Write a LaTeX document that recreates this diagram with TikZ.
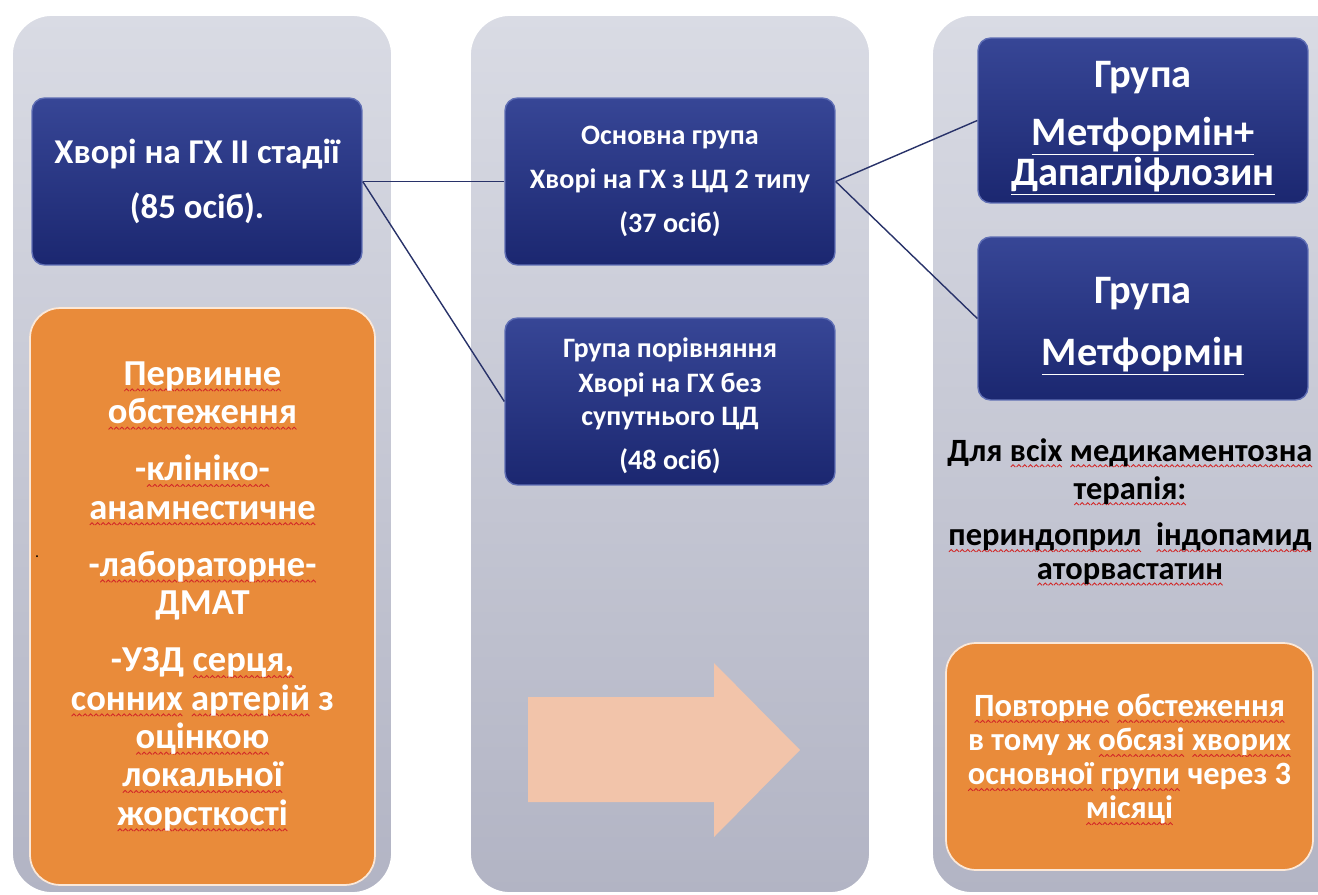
\documentclass[tikz,border=0pt]{standalone}
\usepackage{fontspec}
\setmainfont{Carlito}
\usepackage{tikz}
\usetikzlibrary{positioning}
\definecolor{panelTop}{RGB}{217,219,228}
\definecolor{panelBot}{RGB}{178,180,196}
\definecolor{navyTop}{RGB}{55,70,150}
\definecolor{navyBot}{RGB}{27,39,112}
\definecolor{navyEdge}{RGB}{95,110,180}
\definecolor{orangeFill}{RGB}{233,139,58}
\definecolor{arrowFill}{RGB}{242,196,170}
\definecolor{linkCol}{RGB}{40,50,105}
\definecolor{spellred}{RGB}{210,40,40}
\newsavebox\wavebox
\newsavebox\wordbox
\newcommand\spl[1]{\sbox\wordbox{#1}\rlap{\lower3.6pt\hbox to \wd\wordbox{\xleaders\copy\wavebox\hfill}}\usebox\wordbox}
\newcommand\hxfont{\bfseries\fontsize{19.8}{23}\selectfont}
\newcommand\midfont{\bfseries\fontsize{16}{19}\selectfont}
\newcommand\grpfont{\bfseries\fontsize{23}{23}\selectfont}
\newcommand\exfont{\bfseries\fontsize{20.8}{21.8}\selectfont}
\newcommand\notefont{\bfseries\fontsize{18.5}{19}\selectfont}
\newcommand\repfont{\bfseries\fontsize{18.5}{19.4}\selectfont}
\tikzset{panel/.style={rounded corners=0.8cm, top color=panelTop, bottom color=panelBot, draw=white, line width=1pt},
         navybox/.style={rectangle, rounded corners=0.25cm, top color=navyTop, bottom color=navyBot, draw=navyEdge, line width=0.8pt, text=white, align=center, minimum width=6.6cm, minimum height=3.34cm},
         orangebox/.style={rectangle, rounded corners=0.6cm, fill=orangeFill, draw=white!80!orangeFill, line width=1pt, text=white, align=center},
         link/.style={draw=linkCol, line width=0.8pt}
}
\begin{document}
\sbox\wavebox{\begin{pgfpicture}
  \pgfsetlinewidth{0.5pt}\pgfsetstrokecolor{spellred}
  \pgfpathmoveto{\pgfpoint{0pt}{0pt}}\pgfpathlineto{\pgfpoint{1.3pt}{1.3pt}}\pgfpathlineto{\pgfpoint{2.6pt}{0pt}}
  \pgfusepath{stroke}
\end{pgfpicture}}
\begin{tikzpicture}[x=0.02cm, y=-0.02cm]
  \clip (0,0) rectangle (1318,895);
  \path[panel] (12,15) rectangle (392,893);
  \path[panel] (470,15) rectangle (870,893);
  \path[panel] (932,15) rectangle (1360,893);
  \node[navybox, font=\hxfont] (hx) at (197,181.5) {Хворі на ГХ II стадії\\[8pt](85 осіб).};
  \node[orangebox, font=\exfont, minimum width=6.9cm, minimum height=11.54cm] (exam) at (202.5,596.5)
    {\spl{Первинне}\\\spl{обстеження}\\[10.8pt]
     -\spl{клініко-}\\\spl{анамнестичне}\\[10.8pt]
     -\spl{лабораторне-}\\ДМАТ\\[10.8pt]
     -УЗД \spl{серця,}\\\spl{сонних} \spl{артерій} з\\\spl{оцінкою}\\\spl{локальної}\\\spl{жорсткості}};
  \node[font=\small] (dot) at (37,557) {.};
  \node[navybox, font=\midfont] (mg1) at (670,181.5) {Основна група\\[6pt]Хворі на ГХ з ЦД 2 типу\\[6pt](37 осіб)};
  \node[navybox, font=\midfont] (mg2) at (670,401.5) {\rule{0pt}{16pt}Група порівняння\\[1pt]Хворі на ГХ без\\супутнього ЦД\\[6pt](48 осіб)};
  \fill[arrowFill] (528,697) -- (714,697) -- (714,663) -- (800,750) -- (714,837) -- (714,802) -- (528,802) -- cycle;
  \node[navybox, font=\grpfont, minimum height=3.3cm] (rg1) at (1143,120.5) {\rule{0pt}{24pt}Група\\[10pt]\underline{Метформін+}\\\underline{Дапагліфлозин}};
  \node[navybox, font=\grpfont, minimum height=3.26cm] (rg2) at (1143,318.5) {\rule{0pt}{24pt}Група\\[12pt]\underline{Метформін}};
  \node[font=\notefont, align=center] (note) at (1130,512)
    {Для \spl{всіх} \spl{медикаментозна}\\[2.6pt]\spl{терапія:}\\[7.7pt]\spl{периндоприл}\ \ \spl{індопамид}\\\spl{аторвастатин}};
  \node[orangebox, font=\repfont, minimum width=7.34cm, minimum height=4.54cm] (rep) at (1129.5,756.5)
    {\rule{0pt}{16.5pt}\spl{Повторне} \spl{обстеження}\\в тому ж \spl{обсязі} \spl{хворих}\\\spl{основної} \spl{групи} через 3\\\spl{місяці}};
  \draw[link] (hx.east) -- (mg1.west);
  \draw[link] (hx.east) -- (mg2.west);
  \draw[link] (mg1.east) -- (rg1.west);
  \draw[link] (mg1.east) -- (rg2.west);
\end{tikzpicture}
\end{document}
